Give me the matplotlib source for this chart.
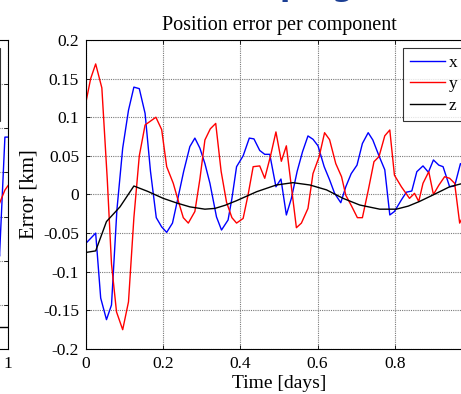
import numpy as np
import matplotlib.pyplot as plt

plt.rcParams['font.family'] = ['Liberation Serif', 'DejaVu Serif']
plt.rcParams['axes.unicode_minus'] = False

# position error per component (km) vs time (days)
tx = [0.0, 0.025, 0.038, 0.053, 0.066, 0.080, 0.095, 0.110, 0.124, 0.138, 0.153, 0.167, 0.182,
      0.196, 0.209, 0.224, 0.238, 0.253, 0.269, 0.282, 0.295, 0.308, 0.321, 0.338, 0.351, 0.368,
      0.378, 0.390, 0.407, 0.423, 0.435, 0.450, 0.463, 0.476, 0.492, 0.505, 0.519, 0.532, 0.547,
      0.561, 0.575, 0.588, 0.601, 0.617, 0.631, 0.644, 0.660, 0.673, 0.687, 0.702, 0.716, 0.731,
      0.743, 0.759, 0.774, 0.787, 0.799, 0.817, 0.830, 0.844, 0.857, 0.873, 0.887, 0.900, 0.914,
      0.925, 0.942, 0.955, 0.970, 0.985, 1.0]
ex = [-0.063, -0.050, -0.134, -0.162, -0.143, -0.020, 0.060, 0.109, 0.139, 0.137, 0.105, 0.030, -0.030,
      -0.042, -0.049, -0.037, -0.005, 0.030, 0.062, 0.073, 0.060, 0.040, 0.0145, -0.029, -0.046, -0.033,
      -0.005, 0.036, 0.050, 0.073, 0.072, 0.057, 0.052, 0.052, 0.010, 0.020, -0.0265, -0.005, 0.030,
      0.0555, 0.0758, 0.0715, 0.063, 0.036, 0.019, 0.0015, -0.0106, 0.010, 0.027, 0.038, 0.066, 0.080,
      0.0706, 0.050, 0.032, -0.0265, -0.022, -0.007, 0.003, 0.0045, 0.0295, 0.037, 0.0288, 0.0447, 0.038,
      0.036, 0.010, 0.011, 0.040, 0.030, 0.045]

ty = [0.0, 0.012, 0.025, 0.041, 0.055, 0.066, 0.079, 0.095, 0.110, 0.124, 0.138, 0.153, 0.167, 0.181,
      0.196, 0.209, 0.226, 0.240, 0.252, 0.265, 0.282, 0.295, 0.308, 0.322, 0.336, 0.350, 0.364, 0.378,
      0.390, 0.407, 0.420, 0.433, 0.450, 0.463, 0.478, 0.492, 0.506, 0.519, 0.532, 0.545, 0.558, 0.575,
      0.588, 0.604, 0.618, 0.631, 0.647, 0.662, 0.673, 0.688, 0.703, 0.716, 0.731, 0.746, 0.759, 0.774,
      0.787, 0.799, 0.817, 0.838, 0.851, 0.862, 0.873, 0.888, 0.900, 0.914, 0.929, 0.942, 0.955, 0.968,
      0.985, 1.0]
ey = [0.120, 0.150, 0.169, 0.138, 0.020, -0.090, -0.152, -0.175, -0.139, -0.030, 0.050, 0.090, 0.095, 0.100,
      0.084, 0.036, 0.0145, -0.010, -0.030, -0.037, -0.022, 0.020, 0.0706, 0.085, 0.092, 0.030, -0.010, -0.030,
      -0.037, -0.031, 0.000, 0.036, 0.037, 0.021, 0.050, 0.081, 0.043, 0.063, 0.010, -0.043, -0.037, -0.018,
      0.027, 0.049, 0.080, 0.071, 0.040, 0.023, -0.001, -0.015, -0.030, -0.030, 0.005, 0.0425, 0.049, 0.076,
      0.0835, 0.025, 0.010, -0.005, 0.0015, -0.009, 0.0145, 0.0295, 0.000, 0.012, 0.023, 0.021, 0.0145, -0.037,
      -0.020, 0.000]

tz = [0.0, 0.025, 0.053, 0.088, 0.124, 0.160, 0.200, 0.235, 0.269, 0.308, 0.334, 0.360, 0.390, 0.442,
      0.493, 0.536, 0.580, 0.623, 0.666, 0.709, 0.761, 0.804, 0.835, 0.864, 0.899, 0.942, 0.970, 1.0]
ez = [-0.075, -0.073, -0.035, -0.016, 0.011, 0.004, -0.005, -0.011, -0.016, -0.019, -0.018, -0.014, -0.008, 0.0036,
      0.0123, 0.0153, 0.0123, 0.006, -0.005, -0.0136, -0.019, -0.019, -0.015, -0.009, -0.0006, 0.010, 0.0136, 0.016]

# right end of the neighbouring panel (mostly cut off)
t_prev = [0.955, 0.965, 0.978, 0.992, 1.0]
prev_x = [0.02, 0.05, -0.14, 0.13, 0.13]
prev_y = [-0.04, -0.05, -0.02, 0.01, 0.02]

fig = plt.figure(figsize=(4.61, 3.94), dpi=100)


def style(ax):
    ax.set_xlim(0, 1)
    ax.set_xticks(np.arange(0, 1.01, 0.2))
    ax.tick_params(direction='in', top=True, right=True, labelsize=12.5, length=3, width=0.6, pad=5)
    ax.grid(True, color='#7a7a7a', linestyle=(0, (1, 1)), linewidth=0.8)
    for s in ax.spines.values():
        s.set_linewidth(0.8)


def add_legend(ax):
    leg = ax.legend(loc='upper right', fancybox=False, edgecolor='black', fontsize=12.5,
                    borderaxespad=0.45, handlelength=2.0, handletextpad=0.2,
                    labelspacing=0.3, borderpad=0.4)
    leg.get_frame().set_linewidth(0.8)


ax0 = fig.add_axes([0.01735 - 0.8373, 0.1142, 0.8373, 0.7843])
ax0.plot(t_prev, prev_x, color='blue', lw=1.0, label='x')
ax0.plot(t_prev, prev_y, color='red', lw=1.0, label='y')
ax0.plot([0.9, 1.0], [-0.3, -0.3], color='black', lw=1.0, label='z')
ax0.set_ylim(-0.35, 0.35)
ax0.set_yticks(np.arange(-0.35, 0.36, 0.1))
style(ax0)
ax0.set_xticklabels(['0', '0.2', '0.4', '0.6', '0.8', '1'])
add_legend(ax0)

ax = fig.add_axes([0.1866, 0.1142, 0.8373, 0.7843])
ax.plot(tx, ex, color='blue', lw=1.0, label='x')
ax.plot(ty, ey, color='red', lw=1.0, label='y')
ax.plot(tz, ez, color='black', lw=1.0, label='z')
ax.set_ylim(-0.2, 0.2)
ax.set_yticks([-0.2, -0.15, -0.1, -0.05, 0, 0.05, 0.1, 0.15, 0.2])
ax.set_yticklabels(['-0.2', '-0.15', '-0.1', '-0.05', '0', '0.05', '0.1', '0.15', '0.2'])
style(ax)
ax.set_xticklabels(['0', '0.2', '0.4', '0.6', '0.8', '1'])
ax.set_xlabel('Time [days]', fontsize=14, labelpad=2)
ax.set_ylabel('Error [km]', fontsize=15, labelpad=3)
ax.set_title('Position error per component', fontsize=14.5, pad=7)
add_legend(ax)

# bottom of the cut-off figure heading
fig.text(279 / 461, 1 - 2 / 394, 'ping', color='#1c3f94', fontsize=21.6, fontweight='bold',
         family='DejaVu Sans', ha='left', va='bottom')

fig.savefig('out.png', dpi=100)
